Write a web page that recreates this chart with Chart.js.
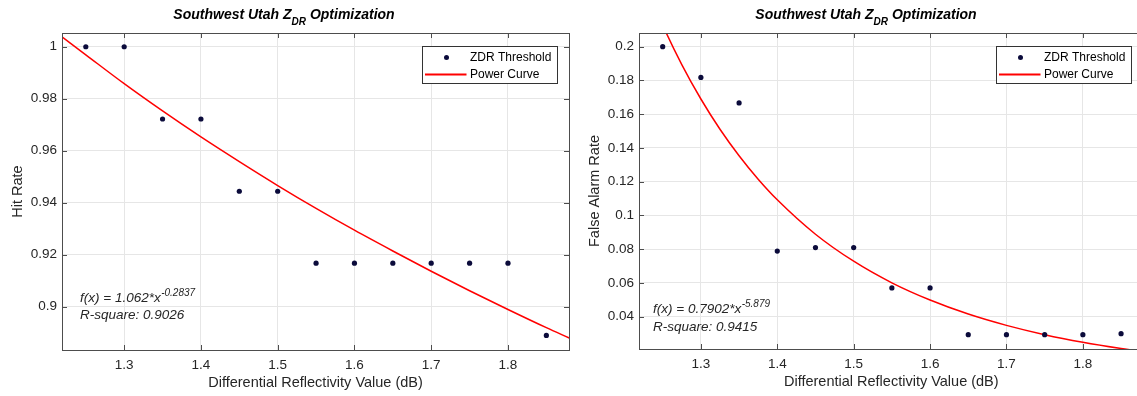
<!DOCTYPE html>
<html>
<head>
<meta charset="utf-8">
<script src="https://cdn.jsdelivr.net/npm/chart.js@4.4.1/dist/chart.umd.min.js"></script>
<style>
  html, body { margin: 0; padding: 0; background: #fff; overflow: hidden; width: 1137px; height: 396px; }
  canvas { position: absolute; top: 0; }
</style>
</head>
<body>
<canvas id="hitChart" width="575" height="396" style="left:0px"></canvas>
<canvas id="farChart" width="575" height="396" style="left:575px"></canvas>
<script>
// thresholds and the measured rates
const thresholds = [1.25, 1.3, 1.35, 1.4, 1.45, 1.5, 1.55, 1.6, 1.65, 1.7, 1.75, 1.8, 1.85];
const hitRate = [1, 1, 0.9722, 0.9722, 0.9444, 0.9444, 0.9167, 0.9167, 0.9167, 0.9167, 0.9167, 0.9167, 0.8889];
const falseAlarmRate = [0.2, 0.1818, 0.1667, 0.0789, 0.0810, 0.0810, 0.0571, 0.0571, 0.0294, 0.0294, 0.0294, 0.0294, 0.0300];

// fitted power curves
const hitCurveX = [1.219, 1.25, 1.3, 1.35, 1.4, 1.45, 1.5, 1.55, 1.6, 1.65, 1.7, 1.75, 1.8, 1.85, 1.88];
const hitCurveY = [1.0038, 0.9969, 0.9858, 0.9753, 0.9653, 0.9558, 0.9466, 0.9378, 0.9294, 0.9214, 0.9136, 0.9061, 0.8989, 0.8919, 0.8879];
const farCurveX = [1.22, 1.25, 1.275, 1.3, 1.325, 1.35, 1.375, 1.4, 1.45, 1.5, 1.55, 1.6, 1.65, 1.7, 1.75, 1.8, 1.85, 1.88];
const farCurveY = [0.2455, 0.2128, 0.1894, 0.1690, 0.1511, 0.1354, 0.1215, 0.1093, 0.0889, 0.0729, 0.0601, 0.0499, 0.0416, 0.0349, 0.0294, 0.0249, 0.0212, 0.0193];

// tick labels
const xTicks = [1.3, 1.4, 1.5, 1.6, 1.7, 1.8];
const hitTicks = [0.9, 0.92, 0.94, 0.96, 0.98, 1];
const farTicks = [0.04, 0.06, 0.08, 0.1, 0.12, 0.14, 0.16, 0.18, 0.2];

const FONT = "'Liberation Sans', Arial, sans-serif";
const TEXT = '#262626';

function fmt(v) {
    return String(Number(v.toFixed(3)));
}

function pts(xs, ys) {
    return xs.map((x, i) => ({ x: x, y: ys[i] }));
}

// title, axis labels, box, inner ticks, legend and fit text
const decor = {
    id: 'decor',
    afterDraw(chart, args, opts) {
        const ctx = chart.ctx;
        const a = chart.chartArea;
        const xs = chart.scales.x, ys = chart.scales.y;
        ctx.save();

        // title with subscript
        const big = 'bold italic 14px ' + FONT;
        const small = 'bold italic 10px ' + FONT;
        ctx.fillStyle = '#000';
        ctx.textBaseline = 'alphabetic';
        ctx.font = big;
        const p1 = 'Southwest Utah Z', p3 = ' Optimization';
        const w1 = ctx.measureText(p1).width, w3 = ctx.measureText(p3).width;
        ctx.font = small;
        const w2 = ctx.measureText('DR').width;
        let tx = opts.titleX - (w1 + w2 + w3) / 2;
        ctx.textAlign = 'left';
        ctx.font = big;
        ctx.fillText(p1, tx, 19);
        ctx.font = small;
        ctx.fillText('DR', tx + w1, 25);
        ctx.font = big;
        ctx.fillText(p3, tx + w1 + w2, 19);

        // axis titles
        ctx.fillStyle = TEXT;
        ctx.font = '14.5px ' + FONT;
        ctx.textAlign = 'center';
        ctx.textBaseline = 'middle';
        ctx.fillText('Differential Reflectivity Value (dB)', (a.left + a.right) / 2, a.bottom + 33);
        ctx.save();
        ctx.translate(a.left - 44, (a.top + a.bottom) / 2);
        ctx.rotate(-Math.PI / 2);
        ctx.fillText(opts.yTitle, 0, 0);
        ctx.restore();

        // box and inside ticks
        ctx.strokeStyle = '#4d4d4d';
        ctx.lineWidth = 1;
        ctx.beginPath();
        xTicks.forEach(v => {
            const px = Math.round(xs.getPixelForValue(v)) + 0.5;
            ctx.moveTo(px, a.top); ctx.lineTo(px, a.top + 5);
            ctx.moveTo(px, a.bottom); ctx.lineTo(px, a.bottom - 5);
        });
        opts.yTicks.forEach(v => {
            const py = Math.round(ys.getPixelForValue(v)) + 0.5;
            ctx.moveTo(a.left, py); ctx.lineTo(a.left + 5, py);
            ctx.moveTo(a.right, py); ctx.lineTo(a.right - 5, py);
        });
        ctx.stroke();
        ctx.strokeRect(Math.round(a.left) + 0.5, Math.round(a.top) + 0.5,
            Math.round(a.right - a.left), Math.round(a.bottom - a.top));

        // legend
        const lw = 135, lh = 37;
        const lx = Math.round(a.right - 12.5 - lw) + 0.5, ly = Math.round(a.top + 12.5) + 0.5;
        ctx.fillStyle = '#fff';
        ctx.fillRect(lx, ly, lw, lh);
        ctx.strokeStyle = '#333';
        ctx.strokeRect(lx, ly, lw, lh);
        const ds = chart.data.datasets;
        ctx.fillStyle = ds[0].backgroundColor;
        ctx.beginPath();
        ctx.arc(lx + 24, ly + 11, 2.5, 0, Math.PI * 2);
        ctx.fill();
        ctx.strokeStyle = ds[1].borderColor;
        ctx.lineWidth = 2;
        ctx.beginPath();
        ctx.moveTo(lx + 2.5, ly + 28); ctx.lineTo(lx + 44, ly + 28);
        ctx.stroke();
        ctx.fillStyle = '#000';
        ctx.font = '12px ' + FONT;
        ctx.textAlign = 'left';
        ctx.textBaseline = 'middle';
        ctx.fillText(ds[0].label, lx + 47.5, ly + 11.5);
        ctx.fillText(ds[1].label, lx + 47.5, ly + 28);

        // fit equation
        const fx = a.left + opts.fitDX;
        ctx.fillStyle = TEXT;
        ctx.textBaseline = 'alphabetic';
        ctx.font = 'italic 13.5px ' + FONT;
        const eq = 'f(x) = ' + opts.coef + '*x';
        ctx.fillText(eq, fx, opts.fitY);
        const we = ctx.measureText(eq).width;
        ctx.font = 'italic 10px ' + FONT;
        ctx.fillText(opts.expo, fx + we + 0.5, opts.fitY - 6);
        ctx.font = 'italic 13.5px ' + FONT;
        ctx.fillText('R-square: ' + opts.r2, fx, opts.fitY + opts.fitGap);

        ctx.restore();
    }
};

function makeChart(id, rates, curveX, curveY, yTicks, yMin, yMax, extra) {
    const ctx = document.getElementById(id).getContext('2d');
    return new Chart(ctx, {
        type: 'scatter',
        data: {
            datasets: [
                {
                    label: 'ZDR Threshold',
                    data: pts(thresholds, rates),
                    backgroundColor: '#0b0b3b',
                    borderWidth: 0,
                    pointRadius: 2.6
                },
                {
                    label: 'Power Curve',
                    type: 'line',
                    data: pts(curveX, curveY),
                    borderColor: '#ff0000',
                    borderWidth: 1.5,
                    pointRadius: 0,
                    fill: false,
                    cubicInterpolationMode: 'monotone'
                }
            ]
        },
        options: {
            responsive: false,
            animation: false,
            devicePixelRatio: 1,
            layout: { padding: { top: 33, left: 0, right: extra.padRight, bottom: 0 } },
            plugins: {
                legend: { display: false },
                tooltip: { enabled: false },
                decor: extra
            },
            scales: {
                x: {
                    type: 'linear',
                    min: 1.219,
                    max: 1.8795,
                    afterBuildTicks: s => { s.ticks = xTicks.map(v => ({ value: v })); },
                    afterFit: s => { s.height = extra.xHeight; },
                    ticks: {
                        callback: v => fmt(v),
                        color: TEXT,
                        font: { family: FONT, size: 13.5 },
                        padding: 7,
                        maxRotation: 0
                    },
                    grid: { color: '#e6e6e6', drawTicks: false },
                    border: { display: false }
                },
                y: {
                    type: 'linear',
                    min: yMin,
                    max: yMax,
                    afterBuildTicks: s => { s.ticks = yTicks.map(v => ({ value: v })); },
                    afterFit: s => { s.width = extra.yWidth; },
                    ticks: {
                        callback: v => fmt(v),
                        color: TEXT,
                        font: { family: FONT, size: 13.5 },
                        padding: 5
                    },
                    grid: { color: '#e6e6e6', drawTicks: false },
                    border: { display: false }
                }
            }
        },
        plugins: [decor]
    });
}

document.addEventListener('DOMContentLoaded', function() {
    makeChart('hitChart', hitRate, hitCurveX, hitCurveY, hitTicks, 0.8833, 1.0053, {
        padRight: 6, xHeight: 46, yWidth: 62,
        titleX: 284, yTitle: 'Hit Rate', yTicks: hitTicks,
        coef: '1.062', expo: '-0.2837', r2: '0.9026',
        fitDX: 18, fitY: 302, fitGap: 17
    });
    makeChart('farChart', falseAlarmRate, farCurveX, farCurveY, farTicks, 0.0209, 0.2081, {
        padRight: 6.4, xHeight: 47, yWidth: 64,
        titleX: 291, yTitle: 'False Alarm Rate', yTicks: farTicks,
        coef: '0.7902', expo: '-5.879', r2: '0.9415',
        fitDX: 14, fitY: 313, fitGap: 18
    });
});
</script>
</body>
</html>
